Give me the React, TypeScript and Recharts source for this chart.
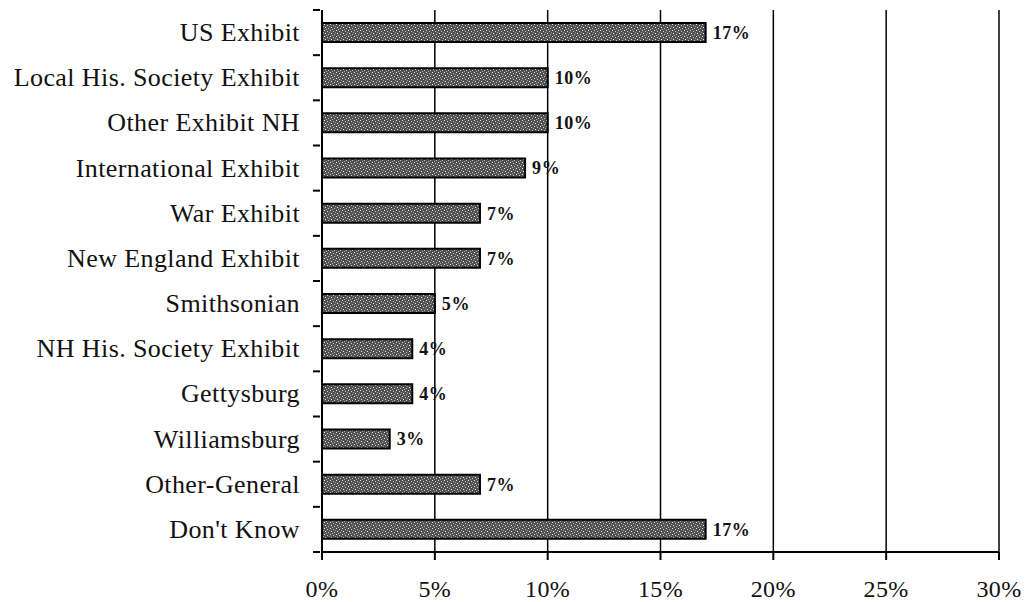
import { BarChart, Bar, XAxis, YAxis, CartesianGrid, LabelList } from "recharts";

const categories = [
  "US Exhibit",
  "Local His. Society Exhibit",
  "Other Exhibit NH",
  "International Exhibit",
  "War Exhibit",
  "New England Exhibit",
  "Smithsonian",
  "NH His. Society Exhibit",
  "Gettysburg",
  "Williamsburg",
  "Other-General",
  "Don't Know",
];
const shares = [17, 10, 10, 9, 7, 7, 5, 4, 4, 3, 7, 17];
const xTicks = [0, 5, 10, 15, 20, 25, 30];

const data = categories.map((name, i) => ({ name, value: shares[i] }));

const FONT = "'Liberation Serif', 'Times New Roman', serif";

// category label plus the small tick marks that sit on the band boundaries
function CategoryTick(props: any) {
  const { x, y, payload, index } = props;
  const half = payload?.offset || 22.6;
  const axisX = x + 8;
  return (
    <g>
      <text
        x={x - 12}
        y={y}
        textAnchor="end"
        dominantBaseline="central"
        fontFamily={FONT}
        fontSize={26}
        letterSpacing={0.4}
        fill="#111"
      >
        {payload.value}
      </text>
      <line x1={axisX - 7} x2={axisX} y1={y - half} y2={y - half} stroke="#000" strokeWidth={2} />
      {index === categories.length - 1 && (
        <line x1={axisX - 7} x2={axisX} y1={y + half} y2={y + half} stroke="#000" strokeWidth={2} />
      )}
    </g>
  );
}

export default function App() {
  return (
    <div style={{ position: "absolute", left: 0, top: 0, background: "#fff" }}>
      <BarChart
        width={1025}
        height={602}
        data={data}
        layout="vertical"
        barSize={19}
        margin={{ top: 10, right: 26, bottom: 0, left: 0 }}
      >
        <defs>
          <pattern id="stipple" width="6" height="6" patternUnits="userSpaceOnUse">
            <rect width="6" height="6" fill="#505050" />
            <rect x="0" y="0" width="1" height="1" fill="#e8e8e8" />
            <rect x="3" y="1" width="1" height="1" fill="#d0d0d0" />
            <rect x="1" y="3" width="1" height="1" fill="#f0f0f0" />
            <rect x="4" y="4" width="1" height="1" fill="#c8c8c8" />
            <rect x="5" y="2" width="1" height="1" fill="#a0a0a0" />
            <rect x="2" y="5" width="1" height="1" fill="#b0b0b0" />
          </pattern>
        </defs>
        <CartesianGrid horizontal={false} stroke="#000" strokeWidth={1.5} />
        <XAxis
          type="number"
          domain={[0, 30]}
          ticks={xTicks}
          tickFormatter={(v) => `${v}%`}
          height={50}
          tickSize={8}
          axisLine={{ stroke: "#000", strokeWidth: 2 }}
          tickLine={{ stroke: "#000", strokeWidth: 2 }}
          tick={{ fontFamily: FONT, fontSize: 24, fill: "#111", dy: 18, letterSpacing: 0.4 }}
        />
        <YAxis
          type="category"
          dataKey="name"
          width={322}
          tickLine={false}
          tickSize={8}
          axisLine={{ stroke: "#000", strokeWidth: 2 }}
          tick={<CategoryTick />}
          interval={0}
        />
        <Bar
          dataKey="value"
          fill="url(#stipple)"
          stroke="#000"
          strokeWidth={2}
          isAnimationActive={false}
        >
          <LabelList
            dataKey="value"
            position="right"
            offset={7}
            formatter={(v: any) => `${v}%`}
            style={{ fontFamily: FONT, fontSize: 18, fontWeight: 700, fill: "#111", letterSpacing: 0.6 }}
          />
        </Bar>
      </BarChart>
    </div>
  );
}
